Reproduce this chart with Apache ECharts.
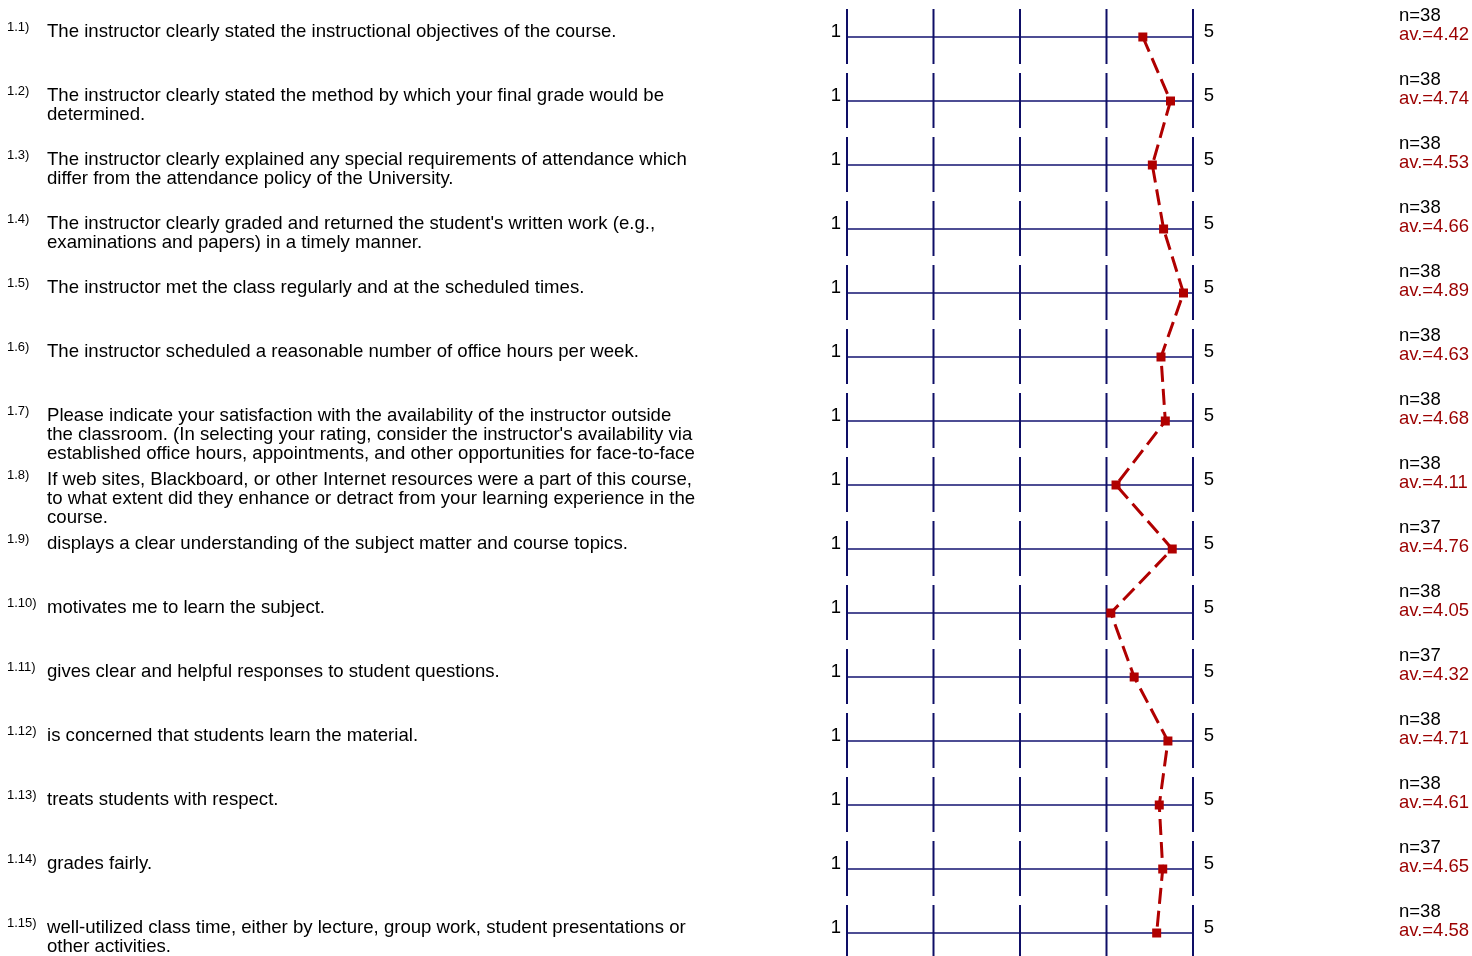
<!DOCTYPE html>
<html><head><meta charset="utf-8">
<script src="https://cdn.jsdelivr.net/npm/echarts@6/dist/echarts.min.js"></script>
<style>html,body{margin:0;padding:0;background:#fff}#c{width:1472px;height:956px}</style>
</head><body><div id="c"></div>
<script>
const itemIds = ["1.1)","1.2)","1.3)","1.4)","1.5)","1.6)","1.7)","1.8)","1.9)","1.10)","1.11)","1.12)","1.13)","1.14)","1.15)"];
const questions = [
 "The instructor clearly stated the instructional objectives of the course.",
 "The instructor clearly stated the method by which your final grade would be\ndetermined.",
 "The instructor clearly explained any special requirements of attendance which\ndiffer from the attendance policy of the University.",
 "The instructor clearly graded and returned the student's written work (e.g.,\nexaminations and papers) in a timely manner.",
 "The instructor met the class regularly and at the scheduled times.",
 "The instructor scheduled a reasonable number of office hours per week.",
 "Please indicate your satisfaction with the availability of the instructor outside\nthe classroom. (In selecting your rating, consider the instructor's availability via\nestablished office hours, appointments, and other opportunities for face-to-face",
 "If web sites, Blackboard, or other Internet resources were a part of this course,\nto what extent did they enhance or detract from your learning experience in the\ncourse.",
 "displays a clear understanding of the subject matter and course topics.",
 "motivates me to learn the subject.",
 "gives clear and helpful responses to student questions.",
 "is concerned that students learn the material.",
 "treats students with respect.",
 "grades fairly.",
 "well-utilized class time, either by lecture, group work, student presentations or\nother activities."
];
const averages = [4.42,4.74,4.53,4.66,4.89,4.63,4.68,4.11,4.76,4.05,4.32,4.71,4.61,4.65,4.58];
const counts = [38,38,38,38,38,38,38,38,37,38,37,38,38,37,38];
const scaleTicks = [1,2,3,4,5];
const scaleMin = 1, scaleMax = 5;

const FONT = '"Liberation Sans", Arial, sans-serif';
const chart = echarts.init(document.getElementById('c'), null, {renderer:'canvas'});

function renderRow(params, api) {
  const i = api.value(0);
  const left = api.coord([scaleMin, i]);
  const right = api.coord([scaleMax, i]);
  const cy = left[1];
  const children = [];
  children.push({type:'line', shape:{x1:left[0], y1:cy, x2:right[0], y2:cy},
    style:{stroke:'#4d4d94', lineWidth:2}});
  scaleTicks.forEach(t => {
    const p = api.coord([t, i]);
    children.push({type:'line', shape:{x1:p[0], y1:cy-28, x2:p[0], y2:cy+27},
      style:{stroke:'#0e0e66', lineWidth:2}});
  });
  children.push({type:'text', style:{text:String(scaleMin), x:left[0]-11, y:cy-5, font:'18.5px '+FONT, fill:'#000', align:'center', verticalAlign:'middle'}});
  children.push({type:'text', style:{text:String(scaleMax), x:right[0]+16, y:cy-5, font:'18.5px '+FONT, fill:'#000', align:'center', verticalAlign:'middle'}});
  children.push({type:'text', style:{text:itemIds[i], x:7, y:cy-10, font:'13px '+FONT, fill:'#000', align:'left', verticalAlign:'middle'}});
  children.push({type:'text', style:{text:questions[i], x:47, y:cy-14, font:'18.6px '+FONT, fill:'#000', align:'left', verticalAlign:'top', lineHeight:18.7}});
  children.push({type:'text', style:{text:'n='+counts[i], x:1399, y:cy-21, font:'18.5px '+FONT, fill:'#000', align:'left', verticalAlign:'middle'}});
  children.push({type:'text', style:{text:'av.='+averages[i].toFixed(2), x:1399, y:cy-2, font:'18.5px '+FONT, fill:'#9b0000', align:'left', verticalAlign:'middle'}});
  return {type:'group', children};
}

chart.setOption({
  animation:false,
  grid:{left:847, width:346, top:37, bottom:23},
  xAxis:{type:'value', min:scaleMin, max:scaleMax, show:false},
  yAxis:{type:'category', data:itemIds, inverse:true, boundaryGap:false, show:false},
  series:[
    {type:'custom', renderItem:renderRow, data:itemIds.map((_,i)=>[i]), encode:{y:0}, silent:true, z:1},
    {type:'line', data:averages.map((v,i)=>[v,i]), symbol:'rect', symbolSize:9,
     itemStyle:{color:'#b00000'}, lineStyle:{color:'#b00000', width:3, type:[16,7]}, z:5, silent:true}
  ]
});
</script></body></html>
